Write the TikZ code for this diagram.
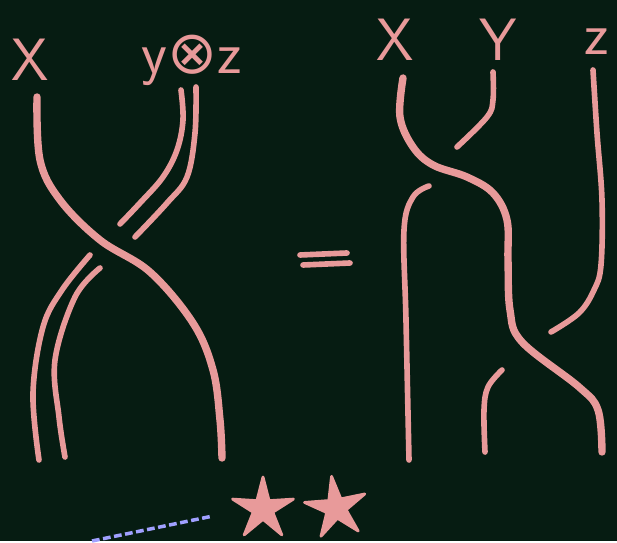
\documentclass[tikz,border=0pt]{standalone}
\usepackage{fontspec}
\usetikzlibrary{shapes.geometric}
\newfontfamily\symfont{DejaVu Sans}
\definecolor{board}{HTML}{061C12}
\definecolor{chalk}{HTML}{E89A9A}
\definecolor{lilac}{HTML}{A0A0FF}

\begin{document}
\begin{tikzpicture}[
    x=0.05cm, y=-0.05cm,
    strand/.style={draw=chalk, line width=10.5pt, line cap=round, line join=round},
    thin/.style={strand, line width=8pt},
    lbl/.style={text=chalk, font=\fontsize{85}{85}\selectfont\sffamily, inner sep=0pt},
    starfig/.style={star, star points=5, star point ratio=3.1, fill=chalk, draw=chalk, line width=4pt, line join=round, minimum size=3.2cm, inner sep=0pt},
]

% board
\fill[board] (0,0) rectangle (617,541);

% labels
\node[lbl] (xleft) at (30,60) {X};
\node[lbl] (yzleft) at (192,60) {y{\symfont ⊗}z};
\node[lbl] (xright) at (395,40) {X};
\node[lbl] (yright) at (498,40) {Y};
\node[lbl] (zright) at (597,42) {z};

% left braid: X over Y (x) Z
\draw[strand] plot[smooth, tension=0.6] coordinates {(37,97) (40,160) (60,200) (100,240) (150,272) (193,323) (213,370) (220,420) (222,458)};
\draw[thin] plot[smooth, tension=0.6] coordinates {(181,90) (183,120) (177,150) (163,177) (140,203) (120,224)};
\draw[thin] plot[smooth, tension=0.6] coordinates {(196,87) (195,133) (187,177) (167,203) (135,237)};
\draw[thin] plot[smooth, tension=0.6] coordinates {(90,255) (62,290) (43,327) (33,393) (39,460)};
\draw[thin] plot[smooth, tension=0.6] coordinates {(100,268) (75,297) (55,360) (59,417) (65,457)};

% equals sign
\draw[thin] (300,255) -- (347,253);
\draw[thin] (303,265) -- (350,263);

% right braid: X over Y, then X over Z
\draw[strand] plot[smooth, tension=0.6] coordinates {(403,78) (400,117) (413,147) (433,165) (467,177) (493,193) (507,220) (508,260) (510,310) (522,342) (579,387) (598,410) (602,452)};
\draw[thin] plot[smooth, tension=0.6] coordinates {(493,72) (493,100) (487,117) (457,147)};
\draw[thin] plot[smooth, tension=0.6] coordinates {(429,186) (413,197) (404,230) (406,320) (409,460)};
\draw[thin] plot[smooth, tension=0.6] coordinates {(593,70) (597,133) (602,200) (601,265) (594,290) (579,313) (551,332)};
\draw[thin] plot[smooth, tension=0.6] coordinates {(502,370) (488,387) (484,410) (485,452)};

% stars
\node[starfig] (starone) at (263,509) {};
\node[starfig, rotate=8] (startwo) at (336,508) {};

% dashed line
\coordinate (dashfrom) at (92,541);
\coordinate (dashto) at (213,516);
\draw[lilac, line width=5pt, dash pattern=on 11pt off 5pt] (dashfrom) -- (dashto);

\end{tikzpicture}
\end{document}
